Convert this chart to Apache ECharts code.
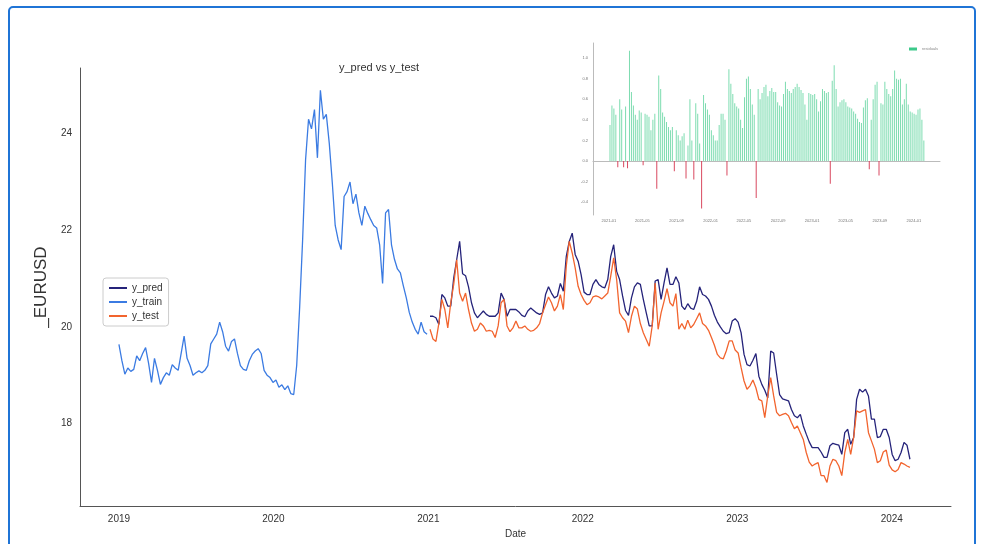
<!DOCTYPE html>
<html>
<head>
<meta charset="utf-8">
<script src="https://cdn.jsdelivr.net/npm/echarts@6/dist/echarts.min.js"></script>
<style>
html, body { margin: 0; padding: 0; background: #fff; }
#main { width: 984px; height: 544px; }
</style>
</head>
<body>
<div id="main"></div>
<script>
// weekly samples
var trainStart = '2019-01-01';
var testStart = '2021-01-05';

var yTrain = [
    19.64, 19.30, 19.02, 19.15, 19.08, 19.12, 19.40, 19.30, 19.45, 19.57,
    19.25, 18.85, 19.35, 19.10, 18.81, 18.95, 19.05, 19.00, 19.22, 19.15,
    19.10, 19.45, 19.81, 19.35, 19.20, 19.00, 19.05, 19.09, 19.05, 19.10,
    19.20, 19.65, 19.75, 19.85, 20.10, 19.90, 19.60, 19.50, 19.70, 19.75,
    19.45, 19.20, 19.12, 19.10, 19.30, 19.43, 19.50, 19.55, 19.45, 19.10,
    19.00, 18.95, 18.85, 18.90, 18.75, 18.80, 18.70, 18.78, 18.62, 18.60,
    19.20, 20.40, 21.80, 23.46, 24.30, 24.10, 24.50, 23.50, 24.90, 24.30,
    24.40, 23.80, 23.00, 22.10, 21.80, 21.60, 22.70, 22.80, 23.00, 22.55,
    22.75, 22.36, 22.10, 22.50, 22.35, 22.22, 22.10, 22.05, 21.70, 20.90,
    22.36, 22.43, 21.70, 21.40, 21.20, 21.12, 20.85, 20.60, 20.30, 20.10,
    19.95, 19.85, 20.10, 19.90, 19.85
];

var yTest = [
    19.95, 19.75, 19.70, 20.08, 20.57, 20.36, 19.98, 20.50, 20.88, 21.39,
    20.70, 20.53, 20.70, 20.36, 20.08, 19.91, 19.95, 20.08, 20.02, 19.91,
    19.93, 19.91, 19.78, 20.02, 20.50, 20.57, 20.02, 19.90, 19.98, 20.12,
    19.98, 19.98, 20.02, 19.95, 19.91, 19.93, 19.98, 20.07, 20.29, 20.46,
    20.62, 20.50, 20.33, 20.43, 20.67, 20.36, 21.26, 21.77, 21.53, 21.22,
    20.84, 20.67, 20.55, 20.46, 20.50, 20.62, 20.64, 20.62, 20.58, 20.64,
    20.70, 21.05, 21.43, 20.98, 20.29, 20.19, 20.12, 19.88, 20.22, 20.43,
    20.37, 20.07, 19.88, 19.74, 19.60, 20.02, 20.91, 19.95, 20.29, 20.53,
    20.79, 20.50, 20.43, 20.69, 19.95, 20.07, 19.95, 20.14, 19.98, 20.05,
    20.17, 20.29, 20.07, 20.02, 19.93, 19.78, 19.62, 19.43, 19.36, 19.34,
    19.50, 19.71, 19.71, 19.52, 19.46, 19.16, 18.88, 18.71, 18.78, 18.90,
    18.74, 18.50, 18.47, 18.12, 18.57, 18.95, 18.57, 18.23, 18.16, 18.19,
    18.21, 18.16, 18.02, 17.89, 17.95, 17.81, 17.67, 17.40, 17.20, 17.12,
    17.16, 17.19, 16.92, 16.92, 16.78, 17.12, 17.26, 17.23, 17.12, 16.92,
    17.40, 17.67, 17.36, 17.71, 18.26, 18.23, 18.26, 18.29, 17.81, 17.64,
    17.47, 17.19, 17.23, 17.41, 17.45, 17.14, 17.04, 17.00, 17.05, 17.19,
    17.16, 17.12, 17.09
];

var yPred = [
    20.22, 20.22, 20.19, 20.05, 20.67, 20.60, 20.43, 20.43, 21.01, 21.39,
    21.77, 21.10, 21.06, 20.83, 20.50, 20.29, 20.19, 20.26, 20.33, 20.26,
    20.22, 20.22, 20.22, 20.29, 20.70, 20.57, 20.22, 20.36, 20.36, 20.36,
    20.31, 20.24, 20.21, 20.33, 20.39, 20.34, 20.29, 20.26, 20.29, 20.67,
    20.83, 20.70, 20.60, 20.64, 20.90, 20.74, 21.46, 21.77, 21.94, 21.50,
    21.36, 21.08, 20.72, 20.67, 20.67, 20.88, 20.98, 20.88, 20.83, 20.81,
    20.98, 21.46, 21.70, 21.15, 20.98, 20.64, 20.34, 20.24, 20.60, 20.83,
    20.91, 20.88, 20.57, 20.29, 20.02, 20.02, 20.95, 20.98, 20.57, 20.91,
    21.22, 20.88, 20.88, 21.04, 20.91, 20.43, 20.36, 20.48, 20.39, 20.36,
    20.53, 20.83, 20.67, 20.64, 20.57, 20.43, 20.24, 20.10, 20.00, 19.91,
    19.86, 19.88, 20.12, 20.17, 20.10, 19.88, 19.43, 19.22, 19.19, 19.31,
    19.45, 18.98, 18.81, 18.69, 18.53, 19.50, 19.46, 19.02, 18.60, 18.51,
    18.49, 18.47, 18.29, 18.16, 18.12, 18.19, 17.95, 17.78, 17.62, 17.50,
    17.50, 17.50, 17.41, 17.30, 17.30, 17.54, 17.59, 17.57, 17.55, 17.36,
    17.81, 17.88, 17.57, 17.71, 18.50, 18.71, 18.65, 18.71, 18.57, 18.09,
    18.09, 17.71, 17.73, 17.88, 17.88, 17.71, 17.36, 17.23, 17.26, 17.40,
    17.61, 17.55, 17.26
];

var residuals = [
    0.35, 0.54, 0.51, 0.45, -0.06, 0.60, 0.50, -0.06, 0.53, -0.07,
    1.07, 0.67, 0.54, 0.45, 0.40, 0.49, 0.47, -0.04, 0.46, 0.45,
    0.43, 0.30, 0.40, 0.46, -0.27, 0.83, 0.70, 0.47, 0.43, 0.38,
    0.33, 0.30, 0.33, -0.10, 0.30, 0.25, 0.20, 0.24, 0.27, -0.17,
    0.15, 0.60, 0.20, -0.18, 0.56, 0.46, 0.17, -0.46, 0.64, 0.56,
    0.50, 0.45, 0.30, 0.25, 0.20, 0.20, 0.35, 0.46, 0.46, 0.40,
    -0.14, 0.89, 0.75, 0.65, 0.56, 0.53, 0.51, 0.40, 0.32, 0.62,
    0.80, 0.82, 0.70, 0.55, 0.45, -0.36, 0.70, 0.60, 0.66, 0.72,
    0.74, 0.63, 0.68, 0.71, 0.67, 0.67, 0.57, 0.54, 0.53, 0.65,
    0.77, 0.70, 0.68, 0.66, 0.70, 0.72, 0.75, 0.72, 0.69, 0.66,
    0.55, 0.40, 0.66, 0.65, 0.64, 0.65, 0.60, 0.48, 0.58, 0.70,
    0.68, 0.66, 0.67, -0.22, 0.78, 0.93, 0.70, 0.53, 0.57, 0.59,
    0.60, 0.57, 0.53, 0.52, 0.51, 0.48, 0.46, 0.41, 0.38, 0.37,
    0.52, 0.59, 0.61, -0.08, 0.40, 0.60, 0.74, 0.77, -0.14, 0.56,
    0.55, 0.77, 0.70, 0.65, 0.63, 0.70, 0.88, 0.80, 0.79, 0.80,
    0.55, 0.60, 0.75, 0.55, 0.48, 0.47, 0.46, 0.45, 0.50, 0.51,
    0.40, 0.20
];

var yearTicks = ['2019-01-01', '2020-01-01', '2021-01-01', '2022-01-01', '2023-01-01', '2024-01-01'];
var priceTicks = [18, 20, 22, 24];
var residDateTicks = ['2021-01-01', '2021-05-01', '2021-09-01', '2022-01-01', '2022-05-01',
    '2022-09-01', '2023-01-01', '2023-05-01', '2023-09-01', '2024-01-01'];
var residTicks = [-0.4, -0.2, 0.0, 0.2, 0.4, 0.6, 0.8, 1.0];

var DAY = 86400000;
function ts(s) { return new Date(s + 'T00:00:00Z').getTime(); }
function weekly(start, values) {
    var t0 = ts(start);
    return values.map(function (v, i) { return [t0 + i * 7 * DAY, v]; });
}
function pad(n) { return n < 10 ? '0' + n : '' + n; }

var font = 'Liberation Sans';
var myChart = echarts.init(document.getElementById('main'));

// dates are plotted on value axes as UTC timestamps
option = {
    animation: false,
    backgroundColor: '#fff',
    title: {
        text: 'y_pred vs y_test',
        left: 334,
        top: 57,
        textStyle: { fontSize: 11, fontWeight: 'normal', color: '#333', fontFamily: font }
    },
    legend: [
        {
            data: ['y_pred', 'y_train', 'y_test'],
            orient: 'vertical',
            left: 103,
            top: 278,
            icon: 'rect',
            itemWidth: 18,
            itemHeight: 2,
            itemGap: 4,
            padding: [5, 6, 5, 6],
            borderColor: '#ccc',
            borderWidth: 1,
            borderRadius: 3,
            textStyle: { fontSize: 10, color: '#333', fontFamily: font }
        },
        {
            data: [{ name: 'residuals', itemStyle: { color: '#3cc98a' } }],
            left: 904,
            top: 42,
            icon: 'rect',
            itemWidth: 8,
            itemHeight: 3,
            itemGap: 2,
            textStyle: { fontSize: 4, color: '#888', fontFamily: font }
        }
    ],
    graphic: [{
        type: 'rect',
        shape: { x: 9, y: 7, width: 966, height: 560, r: 4 },
        style: { fill: 'none', stroke: '#1f74d6', lineWidth: 2 },
        z: 100
    }],
    grid: [
        { left: 80, top: 68, width: 871, height: 439 },
        { left: 593, top: 43, width: 347, height: 172 }
    ],
    xAxis: [
        {
            type: 'value',
            gridIndex: 0,
            min: ts('2018-10-01'),
            max: ts('2024-05-20'),
            name: 'Date',
            nameLocation: 'middle',
            nameGap: 18,
            nameTextStyle: { fontSize: 10, color: '#333', fontFamily: font },
            axisLine: { lineStyle: { color: '#555', width: 1 } },
            axisTick: { show: false },
            splitLine: { show: false },
            axisLabel: {
                customValues: yearTicks.map(ts),
                formatter: function (v) { return '' + new Date(v).getUTCFullYear(); },
                margin: 8,
                fontSize: 10,
                color: '#333',
                fontFamily: font
            }
        },
        {
            type: 'value',
            gridIndex: 1,
            min: ts('2020-11-05'),
            max: ts('2024-04-04'),
            axisLine: { lineStyle: { color: '#bbb', width: 1 } },
            axisTick: { show: false },
            splitLine: { show: false },
            axisLabel: {
                customValues: residDateTicks.map(ts),
                formatter: function (v) {
                    var d = new Date(v);
                    return d.getUTCFullYear() + '-' + pad(d.getUTCMonth() + 1);
                },
                margin: 4,
                fontSize: 4,
                color: '#777',
                fontFamily: font
            }
        }
    ],
    yAxis: [
        {
            type: 'value',
            gridIndex: 0,
            min: 16.29,
            max: 25.36,
            name: '_EURUSD',
            nameLocation: 'middle',
            nameGap: 20,
            nameTextStyle: { fontSize: 17, color: '#333', fontFamily: font },
            axisLine: { show: true, lineStyle: { color: '#555', width: 1 } },
            axisTick: { show: false },
            splitLine: { show: false },
            axisLabel: {
                customValues: priceTicks,
                margin: 8,
                fontSize: 10,
                color: '#333',
                fontFamily: font
            }
        },
        {
            type: 'value',
            gridIndex: 1,
            min: -0.524,
            max: 1.146,
            axisLine: { show: true, lineStyle: { color: '#bbb', width: 1 } },
            axisTick: { show: false },
            splitLine: { show: false },
            axisLabel: {
                customValues: residTicks,
                formatter: function (v) { return v.toFixed(1); },
                margin: 5,
                fontSize: 4,
                color: '#777',
                fontFamily: font
            }
        }
    ],
    series: [
        {
            name: 'y_pred',
            type: 'line',
            xAxisIndex: 0,
            yAxisIndex: 0,
            showSymbol: false,
            data: weekly(testStart, yPred),
            itemStyle: { color: '#25237a' },
            lineStyle: { color: '#25237a', width: 1.3 }
        },
        {
            name: 'y_train',
            type: 'line',
            xAxisIndex: 0,
            yAxisIndex: 0,
            showSymbol: false,
            data: weekly(trainStart, yTrain),
            itemStyle: { color: '#3b7be2' },
            lineStyle: { color: '#3b7be2', width: 1.3 }
        },
        {
            name: 'y_test',
            type: 'line',
            xAxisIndex: 0,
            yAxisIndex: 0,
            showSymbol: false,
            data: weekly(testStart, yTest),
            itemStyle: { color: '#f2642e' },
            lineStyle: { color: '#f2642e', width: 1.3 }
        },
        {
            name: 'residuals',
            type: 'bar',
            xAxisIndex: 1,
            yAxisIndex: 1,
            barWidth: 1,
            data: weekly(testStart, residuals),
            itemStyle: {
                color: function (p) { return p.value[1] >= 0 ? '#7ddcb0' : '#d9485f'; }
            }
        }
    ]
};

myChart.setOption(option);
</script>
</body>
</html>
